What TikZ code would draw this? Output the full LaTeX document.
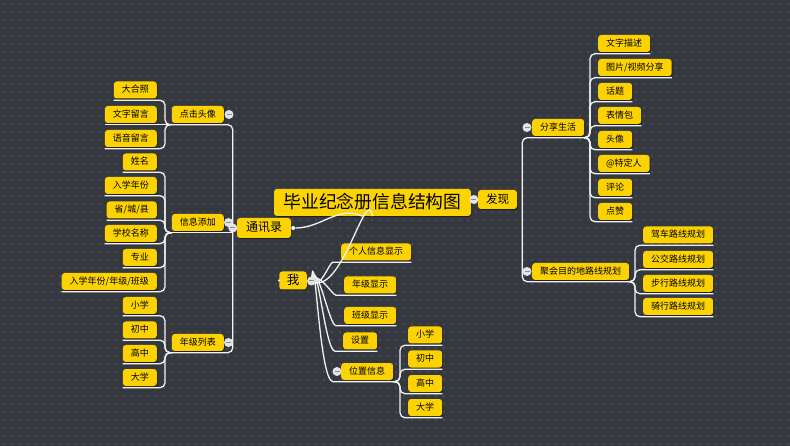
\documentclass[tikz,border=0pt]{standalone}
\usepackage{fontspec}
\newfontfamily\cjk{Noto Sans CJK SC}
\usetikzlibrary{calc,shadows}
\definecolor{bgc}{RGB}{53,57,63}
\definecolor{dotc}{RGB}{72,77,83}
\definecolor{yel}{RGB}{252,211,0}
\definecolor{linec}{RGB}{242,242,242}
\definecolor{circf}{RGB}{228,228,228}
\definecolor{minusc}{RGB}{140,140,140}
\newcommand\mmL[2]{\draw[conn,rounded corners=5pt] ($(#2.south west)+(0,1.5)$) -- ($(#2.south east)+(8,1.5)$) |- ($(#1.south west)+(0,1.5)$);}
\newcommand\mmLs[2]{\draw[conn] ($(#2.south west)+(0,1.5)$) -- ($(#1.south west)+(0,1.5)$);}
\newcommand\mmR[2]{\draw[conn,rounded corners=5pt] ($(#2.south east)+(0,1.5)$) -- ($(#2.south west)+(-8,1.5)$) |- ($(#1.south east)+(0,1.5)$);}
\newcommand\mmW[3]{\draw[conn] (woc) to[out=#3,in=180,out looseness=1.2,in looseness=0.35] ($(#2.south west)+(-8,1.5)$) -- ($(#2.south east)+(0,1.5)$);}
\begin{document}
\begin{tikzpicture}[x=1pt,y=-1pt,
  box/.style={fill=yel, rounded corners=3pt, text=black, inner xsep=8pt, inner ysep=0pt,
    minimum height=17pt, text height=7.3pt, text depth=1.5pt,
    font=\cjk\fontsize{9}{9}\selectfont,
    drop shadow={shadow xshift=0.8pt, shadow yshift=-0.9pt, fill=black, opacity=0.45}},
  conn/.style={draw=linec, line width=1.3pt},
  circ/.style={circle, fill=circf, inner sep=0pt, minimum size=9pt,
    path picture={\draw[minusc, line width=1pt] ([xshift=2pt]path picture bounding box.west) -- ([xshift=-2pt]path picture bounding box.east);}},
  dotn/.style={circle, fill=linec, inner sep=0pt, minimum size=4pt}
]
\useasboundingbox (0,0) rectangle (790,446);
\fill[bgc] (0,0) rectangle (790,446);
\foreach \yy in {4,12,...,444} \draw[dotc, line width=1.2pt, dash pattern=on 1.2pt off 6.8pt] (3.4,\yy) -- (790,\yy);

% main topics
\node[box, font=\cjk\fontsize{17.8}{17.8}\selectfont, minimum height=27pt, text height=14.8pt, text depth=3.2pt, inner xsep=9.5pt] (root) at (372.5,202.5) {毕业纪念册信息结构图};
\node[box, font=\cjk\fontsize{12}{12}\selectfont, minimum height=20pt, text height=10pt, text depth=2pt, inner xsep=9pt] (txl) at (264,228) {通讯录};
\node[box, font=\cjk\fontsize{11.5}{11.5}\selectfont, minimum height=19pt, text height=9.6pt, text depth=1.9pt, inner xsep=8pt] (fx) at (497.5,199.5) {发现};
\node[box, font=\cjk\fontsize{12.5}{12.5}\selectfont, minimum height=18pt, text height=10.4pt, text depth=2pt, inner xsep=7.5pt] (wo) at (293,280.5) {我};

% left subtopics
\node[box, anchor=east] (djtx) at (224,114.5) {点击头像};
\node[box, anchor=east] (xxtj) at (224,222.5) {信息添加};
\node[box, anchor=east] (njlb) at (224,342.5) {年级列表};

\node[box, anchor=east] (dhz) at (157,90) {大合照};
\node[box, anchor=east] (wzly) at (157,114.5) {文字留言};
\node[box, anchor=east] (yyly) at (157,138.5) {语音留言};

\node[box, anchor=east] (xm) at (157,162) {姓名};
\node[box, anchor=east] (rxnf) at (157,185.5) {入学年份};
\node[box, anchor=east] (scx) at (157,210) {省/城/县};
\node[box, anchor=east] (xxmc) at (157,233.5) {学校名称};
\node[box, anchor=east] (zy) at (157,257.5) {专业};
\node[box, anchor=east] (rxnj) at (157,281.5) {入学年份/年级/班级};

\node[box, anchor=east] (la) at (157,305.5) {小学};
\node[box, anchor=east] (lb) at (157,330) {初中};
\node[box, anchor=east] (lc) at (157,353.5) {高中};
\node[box, anchor=east] (ld) at (157,377.5) {大学};

% right subtopics
\node[box, anchor=west] (fxsh) at (532,127.5) {分享生活};
\node[box, anchor=west] (jh) at (532,271.5) {聚会目的地路线规划};

\node[box, anchor=west] (ra) at (598,43.5) {文字描述};
\node[box, anchor=west] (rb) at (598,67.5) {图片/视频分享};
\node[box, anchor=west] (rc) at (598,91.5) {话题};
\node[box, anchor=west] (rd) at (598,115.5) {表情包};
\node[box, anchor=west] (re) at (598,139.5) {头像};
\node[box, anchor=west] (rf) at (598,163.5) {@特定人};
\node[box, anchor=west] (rg) at (598,187.5) {评论};
\node[box, anchor=west] (rh) at (598,211.5) {点赞};

\node[box, anchor=west] (ja) at (643,235) {驾车路线规划};
\node[box, anchor=west] (jb) at (643,259.5) {公交路线规划};
\node[box, anchor=west] (jc) at (643,283.5) {步行路线规划};
\node[box, anchor=west] (jd) at (643,306.5) {骑行路线规划};

% me subtopics
\node[box, anchor=west] (ga) at (341,252) {个人信息显示};
\node[box, anchor=west] (gb) at (344,285) {年级显示};
\node[box, anchor=west] (gc) at (344,315.5) {班级显示};
\node[box, anchor=west] (gd) at (343,341) {设置};
\node[box, anchor=west] (ge) at (341,371.5) {位置信息};

\node[box, anchor=west] (wa) at (408,335) {小学};
\node[box, anchor=west] (wb) at (408,359) {初中};
\node[box, anchor=west] (wc) at (408,383.5) {高中};
\node[box, anchor=west] (wd) at (408,407.5) {大学};

% helper coordinates
\coordinate (txs) at ($(txl.west)+(-4,0)$);
\coordinate (fxs) at ($(fx.east)+(5,0)$);
\coordinate (woc) at ($(wo.east)+(4.5,0.5)$);
\coordinate (xxu) at ($(xxtj.south west)+(0,1.5)$);

% root connectors
\node[dotn] (txd) at ($(txl.east)+(2,0)$) {};
\draw[conn] ($(root.south)+(-10,0)$) to[out=155,in=0] (txd);
\draw[conn] (root.south) to[out=100,in=-30] (woc);

% contacts spine
\draw[conn,rounded corners=5pt] ($(djtx.south west)+(0,1.5)$) -| (txs) |- ($(njlb.south west)+(0,1.5)$);
\draw[conn] (xxu) -- (xxu -| txs);

\mmL{djtx}{dhz}
\mmLs{djtx}{wzly}
\mmL{djtx}{yyly}
\mmL{xxtj}{xm}
\mmL{xxtj}{rxnf}
\mmL{xxtj}{scx}
\mmL{xxtj}{xxmc}
\mmL{xxtj}{zy}
\mmL{xxtj}{rxnj}
\mmL{njlb}{la}
\mmL{njlb}{lb}
\mmL{njlb}{lc}
\mmL{njlb}{ld}

% discover spine
\draw[conn,rounded corners=5pt] ($(fxsh.south east)+(0,1.5)$) -| (fxs) |- ($(jh.south east)+(0,1.5)$);
\mmR{fxsh}{ra}
\mmR{fxsh}{rb}
\mmR{fxsh}{rc}
\mmR{fxsh}{rd}
\mmR{fxsh}{re}
\mmR{fxsh}{rf}
\mmR{fxsh}{rg}
\mmR{fxsh}{rh}
\mmR{jh}{ja}
\mmR{jh}{jb}
\mmR{jh}{jc}
\mmR{jh}{jd}

% me branches
\mmW{wo}{ga}{-50}
\mmW{wo}{gb}{62}
\mmW{wo}{gc}{76}
\mmW{wo}{gd}{82}
\mmW{wo}{ge}{86}
\mmR{ge}{wa}
\mmR{ge}{wb}
\mmR{ge}{wc}
\mmR{ge}{wd}

% collapse circles
\node[circ] (cdjtx) at ($(djtx.east)+(5,0)$) {};
\node[circ] (cxxtj) at ($(xxtj.east)+(4.5,0)$) {};
\node[circ] (cnjlb) at ($(njlb.east)+(4.5,0)$) {};
\node[circ] (ctxl) at (txs) {};
\node[circ] (cfx) at ($(fx.west)+(-4,0)$) {};
\node[circ] (cfxsh) at ($(fxsh.west)+(-5,0)$) {};
\node[circ] (cjh) at ($(jh.west)+(-5,0)$) {};
\node[circ] (cwo) at (woc) {};
\node[circ] (cge) at ($(ge.west)+(-4,0)$) {};
\node[dotn, minimum size=2.5pt] (wod) at (wo.west) {};
\end{tikzpicture}
\end{document}
